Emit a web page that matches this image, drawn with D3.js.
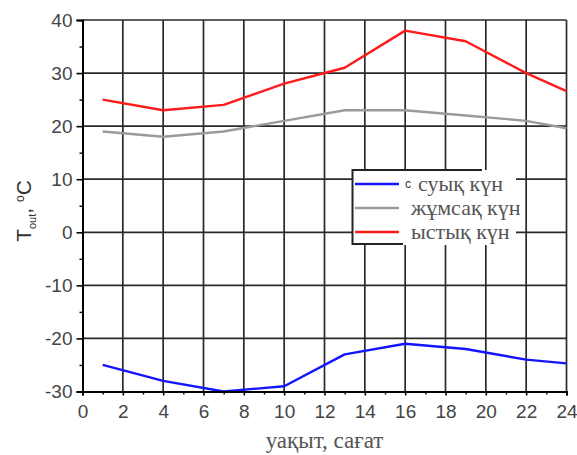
<!DOCTYPE html>
<html>
<head>
<meta charset="utf-8">
<script src="https://cdn.jsdelivr.net/npm/d3@7"></script>
<style>
  body { margin: 0; background: #fff; }
  .serif { font-family: "Liberation Serif", "DejaVu Serif", serif; }
  .sans { font-family: "Liberation Sans", Arial, sans-serif; }
</style>
</head>
<body>
<div id="chart"></div>
<script>
// hours of the day
var hours = [1, 4, 7, 10, 13, 16, 19, 22, 24];
// outdoor temperature, three kinds of day
var coldDay = [-25, -28, -30, -29, -23, -21, -22, -24, -24.7];
var mildDay = [19, 18, 19, 21, 23, 23, 22, 21, 19.6];
var hotDay = [25, 23, 24, 28, 31, 38, 36, 30, 26.6];
var seriesNames = ["суық күн", "жұмсақ күн", "ыстық күн"];
var xTicks = [0, 2, 4, 6, 8, 10, 12, 14, 16, 18, 20, 22, 24];
var xMinor = [1, 3, 5, 7, 9, 11, 13, 15, 17, 19, 21, 23];
var yTicks = [-30, -20, -10, 0, 10, 20, 30, 40];
var yMinor = [-25, -15, -5, 5, 15, 25, 35];

var width = 577;
var height = 455;
var plotLeft = 82.5, plotTop = 20, plotRight = 566.5, plotBottom = 391.5;

var svg = d3.select("#chart")
  .append("svg")
  .attr("width", width)
  .attr("height", height)
  .attr("viewBox", [0, 0, width, height]);

var x = d3.scaleLinear().domain([0, 24]).range([plotLeft, plotRight]);
var y = d3.scaleLinear().domain([-30, 40]).range([plotBottom, plotTop]);

// grid
svg.append("g")
  .selectAll("line")
  .data(xTicks.slice(1))
  .join("line")
  .attr("x1", d => x(d)).attr("x2", d => x(d))
  .attr("y1", plotTop).attr("y2", plotBottom)
  .attr("stroke", "#2a2a2a")
  .attr("stroke-width", 1.7);

svg.append("g")
  .selectAll("line")
  .data(yTicks.slice(1))
  .join("line")
  .attr("x1", plotLeft).attr("x2", plotRight)
  .attr("y1", d => y(d)).attr("y2", d => y(d))
  .attr("stroke", "#2a2a2a")
  .attr("stroke-width", 1.7);

// data lines
var line = d3.line().x((d, i) => x(hours[i])).y(d => y(d));
var series = [coldDay, mildDay, hotDay];
var colors = ["#1414ff", "#9a9a9a", "#ff1a1a"];

series.forEach(function(s, i) {
  svg.append("path")
    .attr("d", line(s))
    .attr("fill", "none")
    .attr("stroke", colors[i])
    .attr("stroke-width", 2.4)
    .attr("stroke-linejoin", "round");
});

// axes
var axisColor = "#444";
var yAxis = svg.append("g")
  .attr("transform", "translate(" + plotLeft + ",0)")
  .call(d3.axisLeft(y).tickValues(yTicks).tickSize(6).tickPadding(4).tickFormat(d => String(d)));
yAxis.select(".domain").attr("stroke", "#000").attr("stroke-width", 2);
yAxis.selectAll(".tick line").attr("stroke", "#000").attr("stroke-width", 1.6);
yAxis.selectAll("text")
  .attr("class", "sans")
  .attr("fill", axisColor)
  .style("font-size", "19px");

svg.append("g")
  .attr("transform", "translate(" + plotLeft + ",0)")
  .call(d3.axisLeft(y).tickValues(yMinor).tickSize(3).tickFormat(""))
  .call(g => g.select(".domain").remove())
  .selectAll(".tick line").attr("stroke", "#000").attr("stroke-width", 1.4);

var xAxis = svg.append("g")
  .attr("transform", "translate(0," + plotBottom + ")")
  .call(d3.axisBottom(x).tickValues(xTicks).tickSize(4).tickPadding(9).tickFormat(d => String(d)));
xAxis.select(".domain").attr("stroke", "#000").attr("stroke-width", 2);
xAxis.selectAll(".tick line").attr("stroke", "#000").attr("stroke-width", 1.6);
xAxis.selectAll("text")
  .attr("class", "sans")
  .attr("fill", axisColor)
  .style("font-size", "19px");

svg.append("g")
  .attr("transform", "translate(0," + plotBottom + ")")
  .call(d3.axisBottom(x).tickValues(xMinor).tickSize(3).tickFormat(""))
  .call(g => g.select(".domain").remove())
  .selectAll(".tick line").attr("stroke", "#000").attr("stroke-width", 1.4);

// axis titles
svg.append("text")
  .attr("class", "serif")
  .attr("x", (plotLeft + plotRight) / 2)
  .attr("y", 448)
  .attr("text-anchor", "middle")
  .attr("fill", "#555")
  .style("font-size", "23px")
  .text("уақыт, сағат");

var yTitle = svg.append("text")
  .attr("class", "sans")
  .attr("transform", "translate(31,211) rotate(-90)")
  .attr("text-anchor", "middle")
  .attr("fill", "#333")
  .style("font-size", "21px");
yTitle.append("tspan").text("T");
yTitle.append("tspan").attr("dy", 5).style("font-size", "11px").text("out");
yTitle.append("tspan").attr("dy", -5).text(", ");
yTitle.append("tspan").attr("dy", -7).style("font-size", "12px").text("o");
yTitle.append("tspan").attr("dy", 7).text("C");

// legend
var lg = svg.append("g");
lg.append("rect")
  .attr("x", 352).attr("y", 170)
  .attr("width", 164).attr("height", 75)
  .attr("fill", "#fff");
lg.append("path")
  .attr("d", "M482,170 H352.5 V244 H403")
  .attr("fill", "none")
  .attr("stroke", "#222")
  .attr("stroke-width", 2);

var legendY = d3.scaleLinear().domain([0, 2]).range([184, 232]);
seriesNames.forEach(function(name, i) {
  lg.append("line")
    .attr("x1", 355).attr("x2", 399)
    .attr("y1", legendY(i)).attr("y2", legendY(i))
    .attr("stroke", colors[i])
    .attr("stroke-width", 2.4);
  lg.append("text")
    .attr("class", "serif")
    .attr("x", i === 0 ? 418 : 411)
    .attr("y", legendY(i) + 7)
    .attr("fill", "#555")
    .style("font-size", "22px")
    .text(name);
});
lg.append("text")
  .attr("class", "sans")
  .attr("x", 405).attr("y", 188)
  .attr("fill", "#333")
  .style("font-size", "12px")
  .text("с");
</script>
</body>
</html>
